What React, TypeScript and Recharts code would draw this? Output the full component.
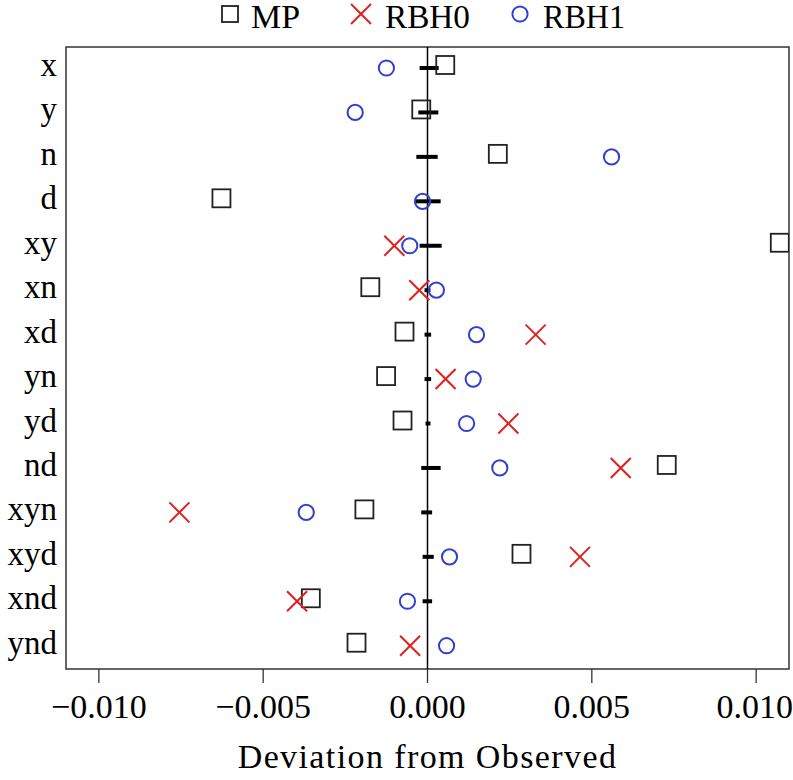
import React from "react";
import {
  ScatterChart,
  Scatter,
  XAxis,
  YAxis,
  ReferenceLine,
  ReferenceArea,
  Legend,
} from "recharts";

const categories = ["x", "y", "n", "d", "xy", "xn", "xd", "yn", "yd", "nd", "xyn", "xyd", "xnd", "ynd"];

const mp = [0.00054, -0.00019, 0.00214, -0.00627, 0.01072, -0.00174, -0.0007, -0.00126, -0.00076, 0.00728, -0.00192, 0.00286, -0.00355, -0.00216];
const rbh0 = [null, null, null, null, -0.00101, -0.00025, 0.00329, 0.00055, 0.00246, 0.00588, -0.00755, 0.00464, -0.00397, -0.00053];
const rbh1 = [-0.00125, -0.0022, 0.0056, -0.00015, -0.00054, 0.00027, 0.00149, 0.00139, 0.00119, 0.0022, -0.00369, 0.00067, -0.00061, 0.00058];

// short black bars around zero (observed interval)
const barLo = [-0.00024, -0.00028, -0.00034, -0.0004, -0.00024, -0.00009, -0.00009, -0.00009, -0.00006, -0.00019, -0.00019, -0.00015, -0.00015, null];
const barHi = [0.00034, 0.00033, 0.00031, 0.0004, 0.00043, 0.00009, 0.00011, 0.00011, 0.00009, 0.0004, 0.00014, 0.00019, 0.00014, null];

const xTicks = [-0.01, -0.005, 0, 0.005, 0.01];
const X_MIN = -0.011;
const X_MAX = 0.011;
const Y_MIN = 0.5275;
const Y_MAX = 14.524;

const RED = "#E01F1F";
const BLUE = "#2F40D0";
const DARK = "#222";
const FONT = "'Liberation Serif', 'DejaVu Serif', serif";

const toPoints = (vals: (number | null)[]) =>
  vals
    .map((v, i) => (v === null ? null : { x: v, y: i + 1 }))
    .filter((p) => p !== null);

const SquareShape = (p: any) => (
  <rect x={p.cx - 9} y={p.cy - 12} width={18} height={18} fill="none" stroke={DARK} strokeWidth={1.8} />
);

const CrossShape = (p: any) => (
  <g stroke={RED} strokeWidth={2}>
    <line x1={p.cx - 10} y1={p.cy - 10} x2={p.cx + 10} y2={p.cy + 10} />
    <line x1={p.cx - 10} y1={p.cy + 10} x2={p.cx + 10} y2={p.cy - 10} />
  </g>
);

const CircleShape = (p: any) => (
  <circle cx={p.cx} cy={p.cy} r={7.6} fill="none" stroke={BLUE} strokeWidth={2} />
);

const fmt = (v: number) => {
  const s = v.toFixed(3);
  return v < 0 ? "\u2212" + s.slice(1) : s;
};

const YTick = (props: any) => {
  const { x, y, payload } = props;
  return (
    <text x={x} y={y} dy={8} textAnchor="end" fontSize={33} fontFamily={FONT} fill="#000">
      {categories[payload.value - 1]}
    </text>
  );
};

const LegendContent = () => (
  <svg width={793} height={47} style={{ display: "block" }}>
    <g fontFamily={FONT} fontSize={33} fill="#000">
      <rect x={222} y={6} width={16} height={16} fill="none" stroke={DARK} strokeWidth={1.8} />
      <text x={251} y={28} textLength={49} lengthAdjust="spacingAndGlyphs">MP</text>
      <g stroke={RED} strokeWidth={2}>
        <line x1={351} y1={4} x2={371} y2={24} />
        <line x1={351} y1={24} x2={371} y2={4} />
      </g>
      <text x={385} y={28} textLength={85} lengthAdjust="spacingAndGlyphs">RBH0</text>
      <circle cx={520} cy={14} r={7.6} fill="none" stroke={BLUE} strokeWidth={2} />
      <text x={543} y={28} textLength={82} lengthAdjust="spacingAndGlyphs">RBH1</text>
    </g>
  </svg>
);

export default function App() {
  return (
    <div style={{ position: "absolute", left: 0, top: 0, background: "#fff" }}>
      <ScatterChart width={793} height={780} margin={{ top: 0, right: 4, bottom: 0, left: 0 }}>
        <Legend
          verticalAlign="top"
          align="left"
          content={<LegendContent />}
          wrapperStyle={{ left: 0, top: 0, width: 793, height: 47, lineHeight: 0 }}
        />
        <XAxis
          type="number"
          dataKey="x"
          domain={[X_MIN, X_MAX]}
          ticks={xTicks}
          tickFormatter={fmt}
          allowDataOverflow
          axisLine={false}
          tickSize={14}
          tickMargin={11}
          tickLine={{ stroke: "#333", strokeWidth: 1.3 }}
          tick={{ fontSize: 34, fill: "#000", fontFamily: FONT }}
          height={111}
          label={{
            value: "Deviation from Observed",
            position: "insideBottom",
            offset: 12,
            fontSize: 34,
            fill: "#000",
            fontFamily: FONT,
            letterSpacing: 1.4,
          }}
        />
        <YAxis
          type="number"
          dataKey="y"
          domain={[Y_MIN, Y_MAX]}
          reversed
          ticks={categories.map((_, i) => i + 1)}
          allowDataOverflow
          axisLine={false}
          tickLine={false}
          tickSize={0}
          tickMargin={9}
          tick={<YTick />}
          width={66}
        />
        <ReferenceArea
          x1={X_MIN}
          x2={X_MAX}
          y1={Y_MIN}
          y2={Y_MAX}
          fill="none"
          stroke="#333"
          strokeWidth={1.5}
          ifOverflow="visible"
        />
        <ReferenceLine x={0} stroke="#000" strokeWidth={1.5} />
        {categories.map((c, i) =>
          barLo[i] === null ? null : (
            <ReferenceLine
              key={c}
              segment={[
                { x: barLo[i] as number, y: i + 1 },
                { x: barHi[i] as number, y: i + 1 },
              ]}
              stroke="#000"
              strokeWidth={4}
            />
          )
        )}
        <Scatter name="MP" data={toPoints(mp)} shape={SquareShape} isAnimationActive={false} />
        <Scatter name="RBH0" data={toPoints(rbh0)} shape={CrossShape} isAnimationActive={false} />
        <Scatter name="RBH1" data={toPoints(rbh1)} shape={CircleShape} isAnimationActive={false} />
      </ScatterChart>
    </div>
  );
}
